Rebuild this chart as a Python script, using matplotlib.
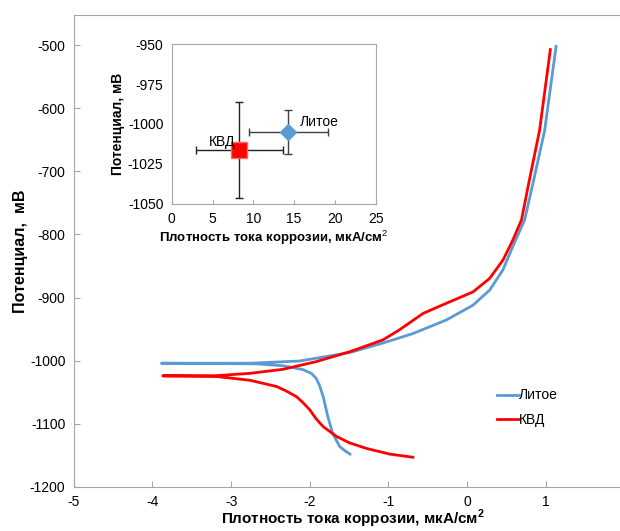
import matplotlib
matplotlib.use("Agg")
import matplotlib.pyplot as plt

plt.rcParams['font.family'] = ['Liberation Sans', 'DejaVu Sans']
plt.rcParams['mathtext.fontset'] = 'custom'
plt.rcParams['mathtext.rm'] = 'Liberation Sans'
plt.rcParams['mathtext.bf'] = 'Liberation Sans:bold'
plt.rcParams['axes.unicode_minus'] = False

# -----------------------------
# Data: Tafel curves (log i vs potential), cathodic branch then anodic
# -----------------------------
lit_x = [-1.49, -1.55, -1.62, -1.71, -1.77, -1.83, -1.88, -1.92, -1.98, -2.09, -2.34,
         -2.68, -3.2, -3.886,
         -3.3, -2.76, -2.13, -1.49, -1.07, -0.69, -0.265, 0.074, 0.286, 0.455, 0.58,
         0.73, 0.845, 0.985, 1.13]
lit_y = [-1148, -1143, -1136, -1115, -1089, -1057, -1038, -1028, -1020, -1014, -1008,
         -1005, -1004.5, -1004,
         -1004, -1004, -1000.5, -987, -972, -957, -935.5, -912, -888, -856, -819,
         -777, -714, -635, -502]

kvd_x = [-0.69, -0.985, -1.28, -1.5, -1.66, -1.83, -1.92, -2.0, -2.09, -2.17, -2.3,
         -2.42, -2.76, -3.19, -3.87,
         -3.19, -2.76, -2.34, -1.92, -1.49, -1.07, -0.86, -0.56, -0.265, 0.074, 0.286,
         0.455, 0.58, 0.69, 0.79, 0.92, 1.057]
kvd_y = [-1153, -1148, -1139, -1130, -1120, -1104.5, -1092, -1078, -1066, -1057, -1048,
         -1041, -1031, -1025, -1024,
         -1023.7, -1020, -1013.6, -1001.5, -985.7, -967, -951, -925, -909, -891, -869.5,
         -840.5, -809, -777, -714, -635, -507]

# inset: corrosion current density and potential
inset_names = ["Литое", "КВД"]
inset_i = [14.3, 8.3]
inset_i_err = [4.8, 5.3]
inset_e = [-1005, -1016]
inset_e_err = [14, 30]

blue = "#5b9bd5"
red = "#ff0000"
grey = "#a6a6a6"

fig = plt.figure(figsize=(6.2, 5.31), dpi=100)

# -----------------------------
# Main chart
# -----------------------------
ax = fig.add_axes([0.119, 0.083, 0.901, 0.889])
ax.plot(lit_x, lit_y, color=blue, lw=2, label="Литое", solid_joinstyle="round")
ax.plot(kvd_x, kvd_y, color=red, lw=2, label="КВД", solid_joinstyle="round")
ax.set_xlim(-5, 2.1)
ax.set_ylim(-1200, -452)
ax.set_yticks(range(-1200, -499, 100))
ax.set_xticks(range(-5, 2))
for s in ax.spines.values():
    s.set_color(grey)
ax.tick_params(direction="in", length=4, color=grey, labelsize=10, pad=6)
ax.set_ylabel("Потенциал,  мВ", fontsize=11.5, fontweight="bold", labelpad=1)
ax.set_xlabel("Плотность тока коррозии, мкА/см$^{\\mathbf{2}}$", fontsize=11,
              fontweight="bold", labelpad=-1)
ax.legend(loc="upper left", bbox_to_anchor=(0.735, 0.235), frameon=False,
          handlelength=1.6, handletextpad=0.0, fontsize=10, labelspacing=0.75)

# -----------------------------
# Inset chart
# -----------------------------
ins = fig.add_axes([0.277, 0.616, 0.329, 0.301])
ins.errorbar(inset_i[0], inset_e[0], xerr=inset_i_err[0], yerr=inset_e_err[0],
             fmt="D", color=blue, ms=8, ecolor="#404040", elinewidth=1, capsize=3)
ins.errorbar(inset_i[1], inset_e[1], xerr=inset_i_err[1], yerr=inset_e_err[1],
             fmt="s", color=red, mec="#ff6666", ms=11, ecolor="#202020",
             elinewidth=1, capsize=3)
ins.text(15.7, -999, inset_names[0], fontsize=10, va="center")
ins.text(4.6, -1011, inset_names[1], fontsize=10, va="center")
ins.set_xlim(0, 25)
ins.set_ylim(-1050, -950)
ins.set_xticks(range(0, 26, 5))
ins.set_yticks(range(-1050, -949, 25))
for s in ins.spines.values():
    s.set_color(grey)
ins.tick_params(direction="in", length=3, color=grey, labelsize=10, pad=6)
ins.tick_params(axis="y", length=0)
ins.set_xlabel("Плотность тока коррозии, мкА/см$^{2}$", fontsize=9.5,
               fontweight="bold", labelpad=2)
ins.set_ylabel("Потенциал, мВ", fontsize=10, fontweight="bold", labelpad=2)

fig.savefig("out.png", dpi=100)
